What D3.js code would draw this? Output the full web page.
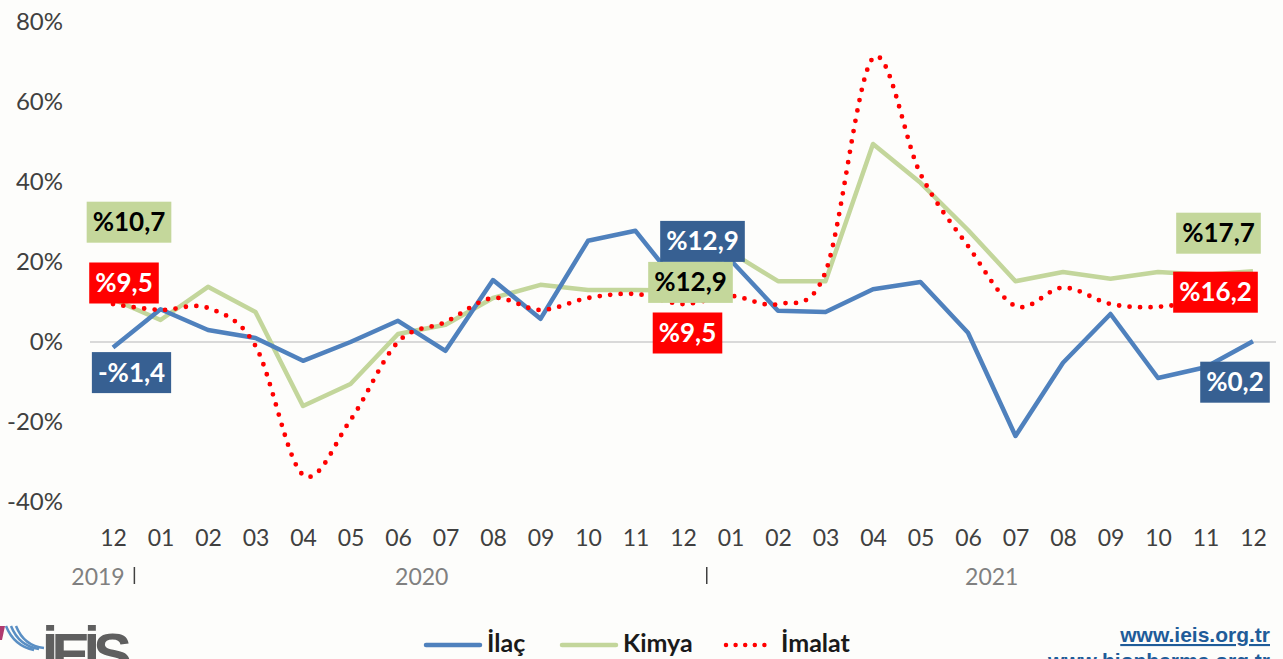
<!DOCTYPE html>
<html>
<head>
<meta charset="utf-8">
<script src="https://cdn.jsdelivr.net/npm/d3@7"></script>
<style>
body { margin: 0; background: #fdfdfb; overflow: hidden; }
svg { display: block; }
.tick text { font-family: Lato, "Open Sans", sans-serif; }
</style>
</head>
<body>
<svg width="1283" height="659"></svg>
<script>
var svg = d3.select('svg');
var width = +svg.attr('width');
var height = +svg.attr('height');

// month labels, 12/2019 .. 12/2021
var months = ['12','01','02','03','04','05','06','07','08','09','10','11','12',
              '01','02','03','04','05','06','07','08','09','10','11','12'];
var years = ['2019','2020','2021'];
var yTicks = [-40, -20, 0, 20, 40, 60, 80];

var ilac   = [-1.4, 8.2, 3, 1, -4.7, 0, 5.3, -2.2, 15.5, 5.8, 25.3, 27.8, 12.9,
              20.5, 7.8, 7.5, 13.2, 15, 2.3, -23.5, -5.2, 7, -9, -6.3, 0.2];
var kimya  = [10.7, 5.5, 13.8, 7.5, -16, -10.5, 2, 4.3, 11, 14.3, 13, 13, 12.9,
              22.5, 15.2, 15.2, 49.5, 39.8, 28, 15.2, 17.5, 15.8, 17.5, 16.8, 17.7];
var imalat = [9.5, 8, 8.5, -1, -33.2, -19.5, 0, 5, 11, 8, 11, 12, 9.5,
              11.5, 9.5, 17.5, 71, 42, 24, 9, 13.6, 9.5, 8.8, 11, 16.2];

var idx = months.map(function(d, i) { return i; });

var x = d3.scalePoint().domain(idx).range([113, 1253]);
var y = d3.scaleLinear().domain([-40, 80]).range([502, 22]);

var font = 'Lato, "Open Sans", sans-serif';

// zero line
svg.append('line')
	.attr('x1', 90).attr('x2', 1276)
	.attr('y1', y(0)).attr('y2', y(0))
	.attr('stroke', '#d9d9d9').attr('stroke-width', 2);

// y axis
var yAxis = svg.append('g')
	.attr('transform', 'translate(63,0)')
	.call(d3.axisLeft(y).tickValues(yTicks).tickSize(0).tickPadding(0)
		.tickFormat(function(d) { return d + '%'; }));
yAxis.select('.domain').remove();
yAxis.selectAll('text').attr('font-size', 24).attr('fill', '#404040');

// x axis (months)
var xAxis = svg.append('g')
	.attr('transform', 'translate(0,530)')
	.call(d3.axisBottom(x).tickSize(0).tickPadding(0)
		.tickFormat(function(i) { return months[i]; }));
xAxis.select('.domain').remove();
xAxis.selectAll('text').attr('font-size', 23).attr('fill', '#404040');

// year level
var yearPos = [0, 6.5, 18.5];
var yearG = svg.append('g');
yearG.selectAll('text').data(years).enter().append('text')
	.attr('x', function(d, i) { return x(0) + (x(1) - x(0)) * yearPos[i] - (i == 0 ? 15 : 0); })
	.attr('y', 585)
	.attr('text-anchor', 'middle')
	.attr('font-family', font).attr('font-size', 23).attr('fill', '#808080')
	.text(function(d) { return d; });
[0.45, 12.5].forEach(function(p) {
	var xx = x(0) + (x(1) - x(0)) * p;
	yearG.append('line')
		.attr('x1', xx).attr('x2', xx).attr('y1', 567).attr('y2', 584)
		.attr('stroke', '#404040').attr('stroke-width', 1.5);
});

// lines
var line = d3.line().x(function(d, i) { return x(i); }).y(function(d) { return y(d); });
var smooth = d3.line().x(function(d, i) { return x(i); }).y(function(d) { return y(d); })
	.curve(d3.curveCatmullRom.alpha(0));

svg.append('path').datum(kimya)
	.attr('d', line).attr('fill', 'none')
	.attr('stroke', '#c3d69b').attr('stroke-width', 4.5).attr('stroke-linejoin', 'round');
svg.append('path').datum(ilac)
	.attr('d', line).attr('fill', 'none')
	.attr('stroke', '#4f81bd').attr('stroke-width', 4.5).attr('stroke-linejoin', 'round');
svg.append('path').datum(imalat)
	.attr('d', smooth).attr('fill', 'none')
	.attr('stroke', '#ff0000').attr('stroke-width', 4.8)
	.attr('stroke-linecap', 'round').attr('stroke-dasharray', '0 10.5');

// data labels: series, point, offsets from the point
var labels = [
	{s: kimya,  i: 0,  t: '%10,7', bg: '#c4d79b', fg: '#000', dx: 16,   dy: -77},
	{s: imalat, i: 0,  t: '%9,5',  bg: '#ff0000', fg: '#fff', dx: 11,   dy: -21},
	{s: ilac,   i: 0,  t: '-%1,4', bg: '#376092', fg: '#fff', dx: 18.5, dy: 25},
	{s: ilac,   i: 12, t: '%12,9', bg: '#376092', fg: '#fff', dx: 19.5, dy: -49},
	{s: kimya,  i: 12, t: '%12,9', bg: '#c4d79b', fg: '#000', dx: 7.5,  dy: -8},
	{s: imalat, i: 12, t: '%9,5',  bg: '#ff0000', fg: '#fff', dx: 4.5,  dy: 29},
	{s: kimya,  i: 24, t: '%17,7', bg: '#c4d79b', fg: '#000', dx: -34.5, dy: -38},
	{s: imalat, i: 24, t: '%16,2', bg: '#ff0000', fg: '#fff', dx: -37.5, dy: 15},
	{s: ilac,   i: 24, t: '%0,2',  bg: '#376092', fg: '#fff', dx: -18,  dy: 41}
];

labels.forEach(function(l) {
	var cx = x(l.i) + l.dx, cy = y(l.s[l.i]) + l.dy;
	var g = svg.append('g');
	var txt = g.append('text')
		.attr('x', cx).attr('y', cy + 9)
		.attr('text-anchor', 'middle')
		.attr('font-family', font).attr('font-weight', 'bold').attr('font-size', 26)
		.attr('fill', l.fg).text(l.t);
	var w = txt.node().getBBox().width + 12;
	g.insert('rect', 'text')
		.attr('x', cx - w / 2).attr('y', cy - 20.5)
		.attr('width', w).attr('height', 41)
		.attr('fill', l.bg);
});

// legend
var legend = [
	{name: 'İlaç',   c: '#4f81bd', x: 426, len: 54, dash: null},
	{name: 'Kimya',  c: '#c3d69b', x: 562, len: 54, dash: null},
	{name: 'İmalat', c: '#ff0000', x: 726, len: 48, dash: '0 9.6'}
];
legend.forEach(function(d) {
	var ln = svg.append('line')
		.attr('x1', d.x).attr('x2', d.x + d.len).attr('y1', 645).attr('y2', 645)
		.attr('stroke', d.c).attr('stroke-width', 4.5).attr('stroke-linecap', 'round');
	if (d.dash) ln.attr('stroke-dasharray', d.dash);
	svg.append('text')
		.attr('x', d.x + d.len + 7).attr('y', 652)
		.attr('font-family', font).attr('font-weight', 'bold').attr('font-size', 25)
		.attr('fill', '#1a1a1a').text(d.name);
});

// logo
var logo = svg.append('g');
[0, 5, 10].forEach(function(r, k) {
	logo.append('path')
		.attr('d', 'M' + (6 + r) + ',626 Q' + (14 + r) + ',646 ' + (34 + r) + ',' + (650 - k))
		.attr('fill', 'none').attr('stroke', '#5a8fc4').attr('stroke-width', 2.5);
});
logo.append('path').attr('d', 'M0,626 L5,626 L2,640 L0,640 Z').attr('fill', '#b03a6e');
logo.append('text')
	.attr('x', 42).attr('y', 674)
	.attr('font-family', '"Liberation Sans", Arial, sans-serif').attr('font-weight', 'bold')
	.attr('font-size', 58).attr('fill', '#5f5f5f').attr('textLength', 90)
	.text('İEİS');

// links
svg.append('text')
	.attr('x', 1270).attr('y', 642).attr('text-anchor', 'end')
	.attr('font-family', '"Liberation Sans", Arial, sans-serif').attr('font-weight', 'bold')
	.attr('font-size', 21).attr('fill', '#1f5c99').attr('text-decoration', 'underline')
	.text('www.ieis.org.tr');
svg.append('text')
	.attr('x', 1270).attr('y', 668).attr('text-anchor', 'end')
	.attr('font-family', '"Liberation Sans", Arial, sans-serif').attr('font-weight', 'bold')
	.attr('font-size', 21).attr('fill', '#1f5c99')
	.text('www.biopharma.org.tr');
</script>
</body>
</html>
